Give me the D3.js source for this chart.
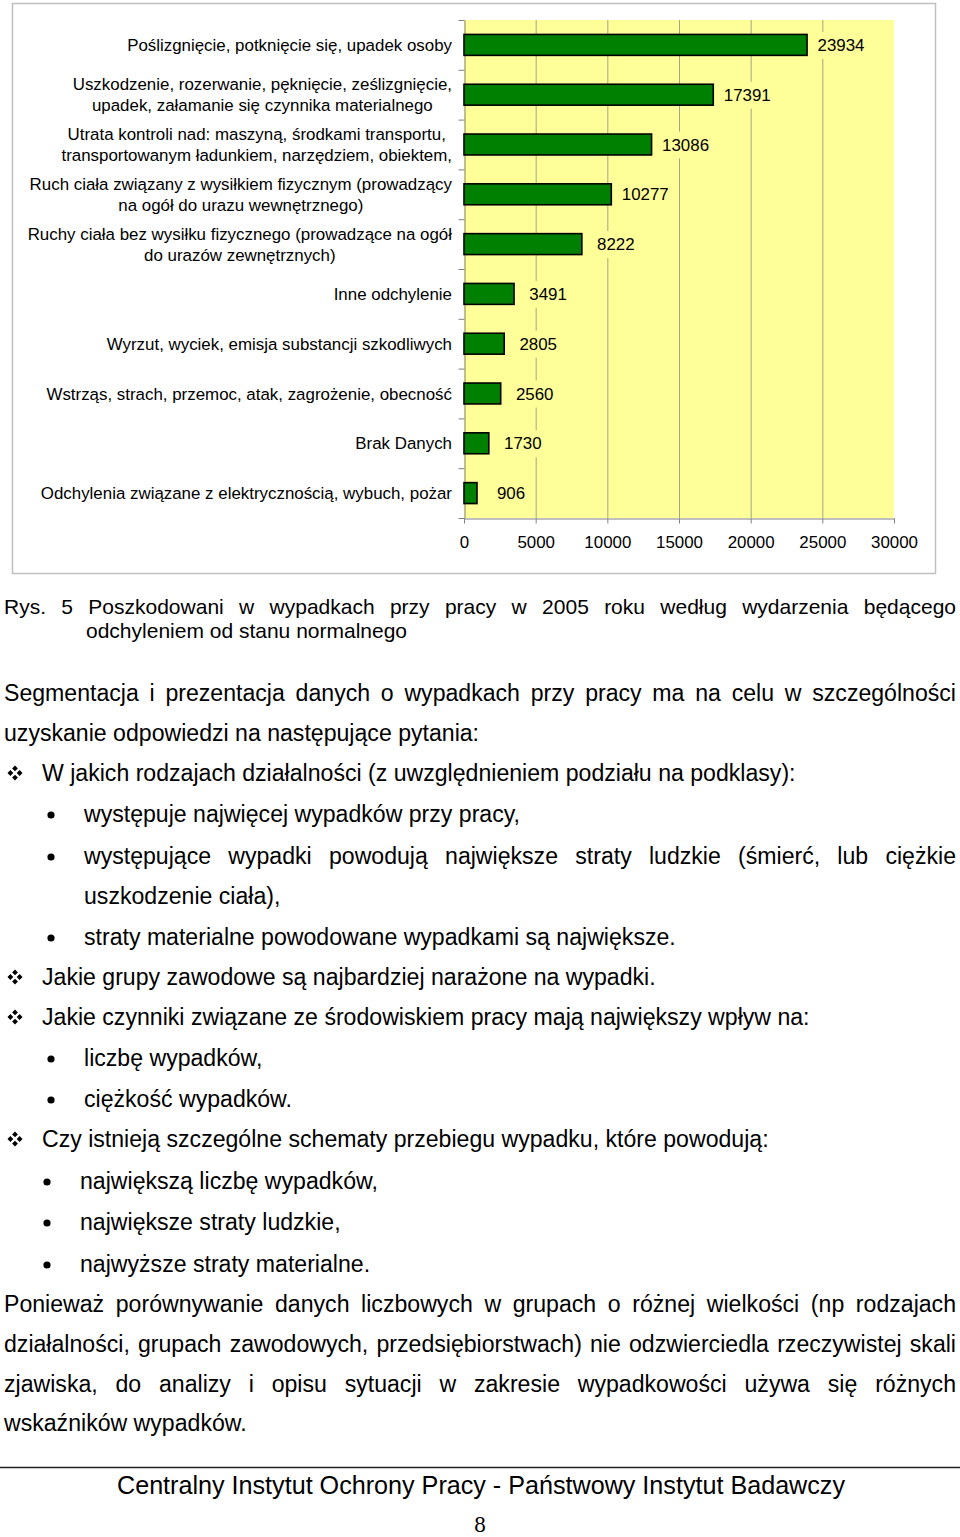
<!DOCTYPE html>
<html><head><meta charset="utf-8">
<script src="https://cdn.jsdelivr.net/npm/d3@7"></script>
<style>
html,body{margin:0;padding:0;background:#fff;}
svg{display:block;}
text{font-family:"Liberation Sans",Arial,sans-serif;fill:#000;}
</style></head>
<body>
<svg id="page" width="960" height="1537"></svg>
<script>
const categories = [
  ["Poślizgnięcie, potknięcie się, upadek osoby"],
  ["Uszkodzenie, rozerwanie, pęknięcie, ześlizgnięcie,", "upadek, załamanie się czynnika materialnego"],
  ["Utrata kontroli nad: maszyną, środkami transportu,", "transportowanym ładunkiem, narzędziem, obiektem,"],
  ["Ruch ciała związany z wysiłkiem fizycznym (prowadzący", "na ogół do urazu wewnętrznego)"],
  ["Ruchy ciała bez wysiłku fizycznego (prowadzące na ogół", "do urazów zewnętrznych)"],
  ["Inne odchylenie"],
  ["Wyrzut, wyciek, emisja substancji szkodliwych"],
  ["Wstrząs, strach, przemoc, atak, zagrożenie, obecność"],
  ["Brak Danych"],
  ["Odchylenia związane z elektrycznością, wybuch, pożar"]
];
const values = [23934, 17391, 13086, 10277, 8222, 3491, 2805, 2560, 1730, 906];
const xTicks = [0, 5000, 10000, 15000, 20000, 25000, 30000];

const captionLine1 = "Rys. 5 Poszkodowani w wypadkach przy pracy w 2005 roku według wydarzenia będącego";
const captionLine2 = "odchyleniem od stanu normalnego";
// body lines: [kind, text, justified]
const bodyLines = [
  ["p", "Segmentacja i prezentacja danych o wypadkach przy pracy ma na celu w szczególności", true],
  ["p", "uzyskanie odpowiedzi na następujące pytania:", false],
  ["d", "W jakich rodzajach działalności (z uwzględnieniem podziału na podklasy):", false],
  ["b", "występuje najwięcej wypadków przy pracy,", false],
  ["b", "występujące wypadki powodują największe straty ludzkie (śmierć, lub ciężkie", true],
  ["c", "uszkodzenie ciała),", false],
  ["b", "straty materialne powodowane wypadkami są największe.", false],
  ["d", "Jakie grupy zawodowe są najbardziej narażone na wypadki.", false],
  ["d", "Jakie czynniki związane ze środowiskiem pracy mają największy wpływ na:", false],
  ["b", "liczbę wypadków,", false],
  ["b", "ciężkość wypadków.", false],
  ["d", "Czy istnieją szczególne schematy przebiegu wypadku, które powodują:", false],
  ["b2", "największą liczbę wypadków,", false],
  ["b2", "największe straty ludzkie,", false],
  ["b2", "najwyższe straty materialne.", false],
  ["p", "Ponieważ porównywanie danych liczbowych w grupach o różnej wielkości (np rodzajach", true],
  ["p", "działalności, grupach zawodowych, przedsiębiorstwach) nie odzwierciedla rzeczywistej skali", true],
  ["p", "zjawiska, do analizy i opisu sytuacji w zakresie wypadkowości używa się różnych", true],
  ["p", "wskaźników wypadków.", false]
];
const bodyY = [693, 733, 773, 814, 856, 896, 937, 977, 1017, 1058, 1099, 1139, 1181, 1222, 1264, 1304, 1344, 1384, 1423];
const footerText = "Centralny Instytut Ochrony Pracy - Państwowy Instytut Badawczy";
const pageNumber = "8";

const svg = d3.select("#page");
const CFS = 16.9;

// ---------- chart frame ----------
svg.append("rect").attr("x", 12.5).attr("y", 3.5).attr("width", 923).attr("height", 570)
  .attr("fill", "#fff").attr("stroke", "#c0c0c0").attr("stroke-width", 1.5);

const x = d3.scaleLinear().domain([0, 30000]).range([464, 894]);
const y = d3.scaleBand().domain(d3.range(values.length)).range([20, 518])
  .paddingInner(0.58).paddingOuter(0.29);
const yEdge = d3.scaleLinear().domain([0, values.length]).range([20, 518]);

const chart = svg.append("g");
chart.append("rect").attr("x", x(0)).attr("y", 20).attr("width", x(30000) - x(0)).attr("height", 498)
  .attr("fill", "#ffff99");

// gridlines
chart.append("g").selectAll("line").data(xTicks.filter(t => t > 0 && t < 30000)).join("line")
  .attr("x1", d => x(d) + 0.5).attr("x2", d => x(d) + 0.5).attr("y1", 20).attr("y2", 518)
  .attr("stroke", "#a3a385").attr("stroke-width", 1);

// bottom axis
const xAxis = chart.append("g").attr("transform", "translate(0,518.5)")
  .call(d3.axisBottom(x).tickValues(xTicks).tickSize(5).tickSizeOuter(0).tickPadding(13).tickFormat(d3.format("d")));
xAxis.select(".domain").attr("stroke", "#808080");
xAxis.selectAll(".tick line").attr("stroke", "#808080");
xAxis.selectAll("text").style("font-size", CFS + "px").style("font-family", "'Liberation Sans',Arial,sans-serif");

// left axis
const yAxis = chart.append("g").attr("transform", "translate(464.5,0)")
  .call(d3.axisLeft(yEdge).tickValues(d3.range(values.length + 1)).tickSize(6).tickSizeOuter(0).tickFormat(""));
yAxis.select(".domain").attr("stroke", "#808080");
yAxis.selectAll(".tick line").attr("stroke", "#808080");

// bars
chart.append("g").selectAll("rect").data(values).join("rect")
  .attr("x", x(0)).attr("y", (d, i) => y(i)).attr("width", d => x(d) - x(0)).attr("height", y.bandwidth())
  .attr("fill", "#008000").attr("stroke", "#000").attr("stroke-width", 1.6);

// value labels with plot-coloured background (hides gridlines)
const lblG = chart.append("g");
values.forEach((d, i) => {
  const t = lblG.append("text")
    .attr("x", x(d) + 34).attr("y", y(i) + y.bandwidth() / 2 + 6)
    .attr("text-anchor", "middle").style("font-size", CFS + "px").text(d);
  const bb = t.node().getBBox();
  lblG.insert("rect", "text").attr("x", bb.x - 4).attr("y", bb.y - 4)
    .attr("width", bb.width + 8).attr("height", bb.height + 8).attr("fill", "#ffff99");
});

// category labels (block right-aligned, lines centred)
const catG = chart.append("g");
categories.forEach((lines, i) => {
  const cy = y(i) + y.bandwidth() / 2;
  const texts = lines.map((ln, j) => catG.append("text")
    .attr("y", cy + (j - (lines.length - 1) / 2) * 21 + 6)
    .style("font-size", CFS + "px").text(ln));
  const maxW = d3.max(texts, t => t.node().getComputedTextLength());
  texts.forEach(t => t.attr("x", 452 - maxW / 2).attr("text-anchor", "middle"));
});

// ---------- text ----------
function justify(g, str, x0, x1, baseline, size) {
  const words = str.split(/\s+/);
  const ts = words.map(w => g.append("text").attr("y", baseline).style("font-size", size + "px").text(w));
  const widths = ts.map(t => t.node().getComputedTextLength());
  const gap = (x1 - x0 - d3.sum(widths)) / (words.length - 1);
  let cx = x0;
  ts.forEach((t, k) => { t.attr("x", cx); cx += widths[k] + gap; });
}
function plain(g, str, x0, baseline, size) {
  g.append("text").attr("x", x0).attr("y", baseline).style("font-size", size + "px").text(str);
}
function diamondCluster(g, cx, cy) {
  const s = 2.9, o = 4.6;
  [[0, -o], [-o, 0], [o, 0], [0, o]].forEach(([dx, dy]) => {
    const px = cx + dx, py = cy + dy;
    g.append("path").attr("d", `M${px},${py - s}L${px + s},${py}L${px},${py + s}L${px - s},${py}Z`).attr("fill", "#000");
  });
}

const txt = svg.append("g");
justify(txt, captionLine1, 4, 956, 614, 21);
plain(txt, captionLine2, 86, 638, 21);

const FS = 23.1;
bodyLines.forEach((b, i) => {
  const [kind, str, just] = b;
  const base = bodyY[i] + 8;
  let x0 = 4;
  if (kind === "d") {
    x0 = 42;
    diamondCluster(txt, 15, bodyY[i]);
  } else if (kind === "b" || kind === "b2") {
    x0 = kind === "b" ? 84 : 80;
    txt.append("circle").attr("cx", kind === "b" ? 51 : 47).attr("cy", bodyY[i] + 1).attr("r", 3.6).attr("fill", "#000");
  } else if (kind === "c") {
    x0 = 84;
  }
  if (just) justify(txt, str, x0, 956, base, FS);
  else plain(txt, str, x0, base, FS);
});

// footer
svg.append("line").attr("x1", 0).attr("x2", 960).attr("y1", 1467.5).attr("y2", 1467.5)
  .attr("stroke", "#222").attr("stroke-width", 1.5);
svg.append("text").attr("x", 117).attr("y", 1494)
  .style("font-family", "'Liberation Sans Narrow','Arial Narrow','Liberation Sans',sans-serif")
  .style("font-size", "25.5px").attr("textLength", 728).attr("lengthAdjust", "spacingAndGlyphs")
  .text(footerText);
svg.append("text").attr("x", 480).attr("y", 1532).attr("text-anchor", "middle")
  .style("font-family", "'Liberation Serif','Times New Roman',serif").style("font-size", "23px")
  .text(pageNumber);
</script>
</body></html>
